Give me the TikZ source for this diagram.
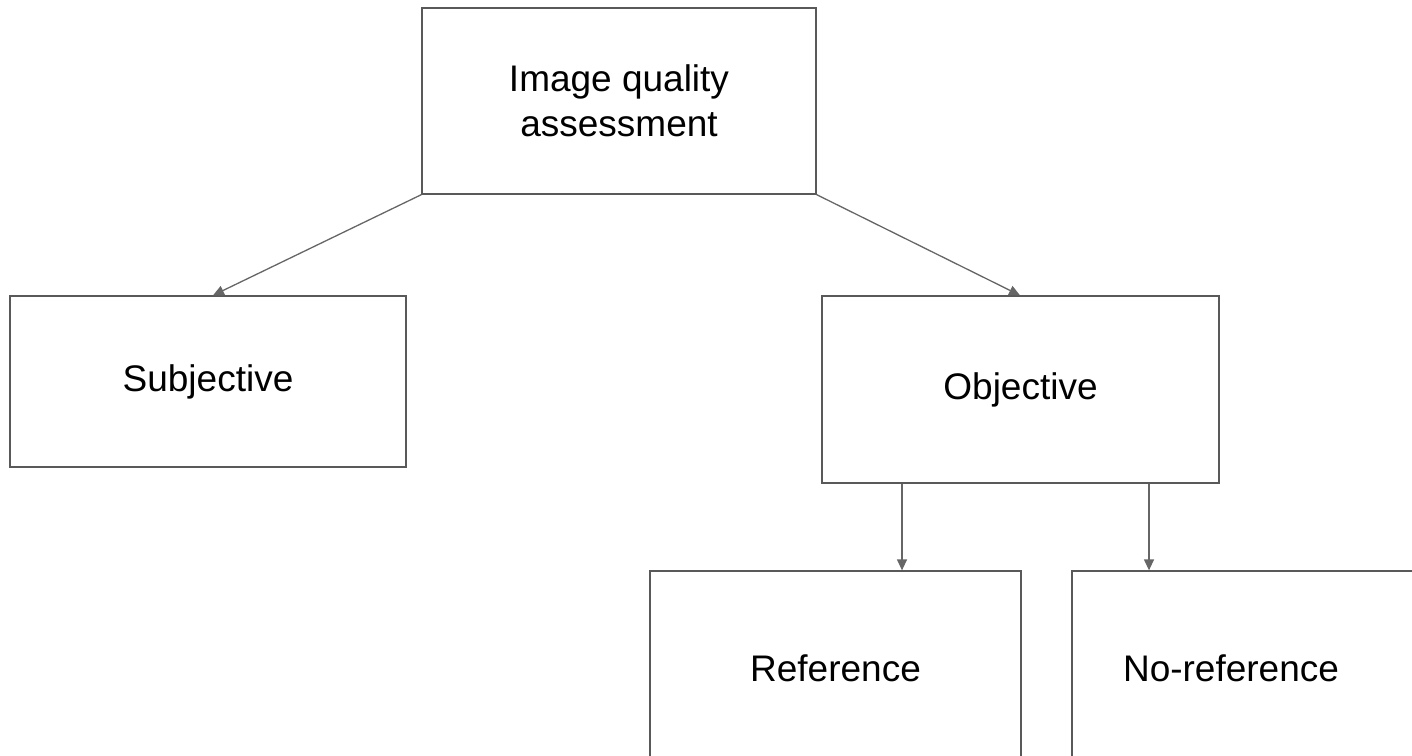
\documentclass[tikz,border=0pt]{standalone}
\usepackage{fontspec}
\setmainfont{Liberation Sans}
\usetikzlibrary{arrows.meta}
\begin{document}
\begin{tikzpicture}[x=1pt,y=-1pt,
  box/.style={draw=black!65,line width=1.3pt,fill=white,inner sep=0pt,font=\fontsize{37}{45}\selectfont,align=center},
  lbl/.style={inner sep=0pt,font=\fontsize{37}{45}\selectfont,align=center},
  conn/.style={draw=black!60,line width=1.3pt,-{Triangle[length=11pt,width=10pt]}}]
\useasboundingbox (0,0) rectangle (1412,755);
\clip (0,0) rectangle (1412,755);
\node[box,minimum width=394pt,minimum height=186pt] (iqa) at (619,101) {Image quality\\assessment};
\node[box,minimum width=396pt,minimum height=171pt] (sub) at (208,381.5) {Subjective};
\node[box,minimum width=397pt,minimum height=187pt] (obj) at (1020.5,389.5) {Objective};
\node[box,minimum width=371pt,minimum height=194pt] (ref) at (835.5,668) {Reference};
\node[box,minimum width=371pt,minimum height=194pt] (nr) at (1257.5,668) {};
\node[lbl] (nrt) at (1231,668) {No-reference};
\draw[conn] (iqa.south west) -- (sub.north west -| 213,0);
\draw[conn] (iqa.south east) -- (obj.north west -| 1020,0);
\draw[conn] (obj.south west -| 902,0) -- (ref.north west -| 902,0);
\draw[conn] (obj.south west -| 1149,0) -- (nr.north west -| 1149,0);
\end{tikzpicture}
\end{document}
